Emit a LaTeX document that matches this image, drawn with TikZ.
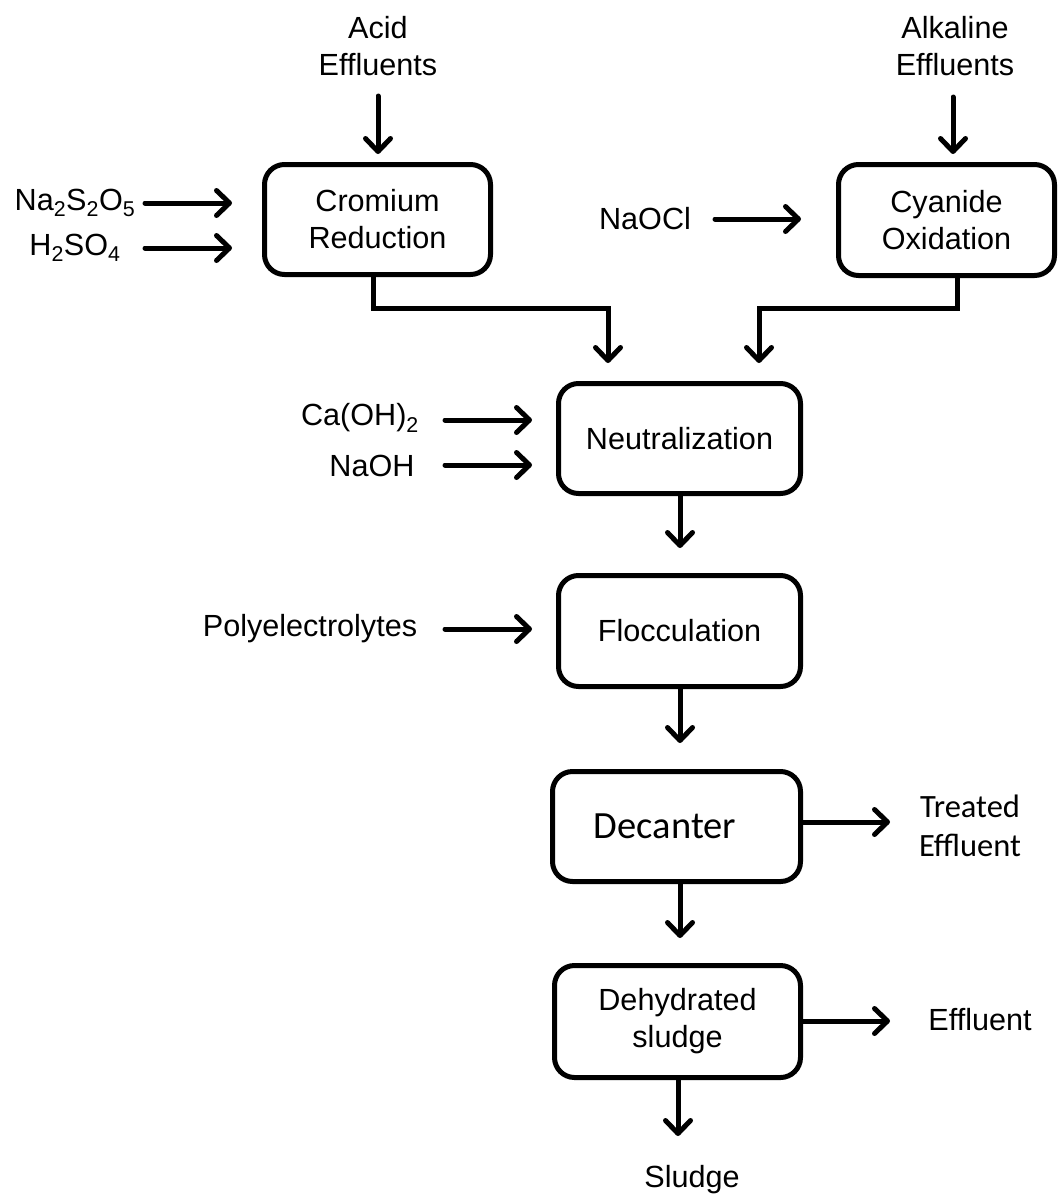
\documentclass[tikz,border=0pt]{standalone}
\usepackage{fontspec}
\setmainfont{Liberation Sans}
\newfontfamily\calfont{Carlito}
\usetikzlibrary{arrows.meta}
\begin{document}
\begin{tikzpicture}[x=1pt,y=-1pt,
  box/.style={draw,line width=5pt,rounded corners=20pt,inner sep=0pt,align=center,
    font=\fontsize{30.6}{37}\selectfont},
  lbl/.style={inner sep=0pt,align=center,font=\fontsize{30.6}{37}\selectfont},
  clbl/.style={inner sep=0pt,align=center,font=\calfont\fontsize{32.5}{39}\selectfont},
  arr/.style={line width=5pt,line cap=round,-{Straight Barb[length=13pt,width=25pt,round]}}]
\useasboundingbox (0,0) rectangle (1059,1197);
% boxes
\node[box,minimum width=226pt,minimum height=110pt] (cr) at (377.5,219.5) {Cromium\\Reduction};
\node[box,minimum width=216pt,minimum height=111pt] (co) at (946.5,220) {Cyanide\\Oxidation};
\node[box,minimum width=242pt,minimum height=110pt] (ne) at (679.5,438.5) {Neutralization};
\node[box,minimum width=242pt,minimum height=111pt] (fl) at (679.5,631) {Flocculation};
\node[box,minimum width=248pt,minimum height=110pt,font=\calfont\fontsize{38.5}{42}\selectfont] (de) at (676.5,826.5) {\hspace*{-23pt}Decanter};
\node[box,minimum width=246pt,minimum height=112pt] (dh) at (677.5,1021.5) {Dehydrated\\sludge};
% labels
\node[lbl] (acid) at (378,46) {Acid\\Effluents};
\node[lbl] (alk) at (955,46) {Alkaline\\Effluents};
\node[lbl] (na2) at (75,203) {Na\textsubscript{2}S\textsubscript{2}O\textsubscript{5}};
\node[lbl] (h2) at (75,248) {H\textsubscript{2}SO\textsubscript{4}};
\node[lbl] (naocl) at (645,219) {NaOCl};
\node[lbl] (caoh) at (360,418) {Ca(OH)\textsubscript{2}};
\node[lbl] (naoh) at (372,466) {NaOH};
\node[lbl] (poly) at (310,629) {Polyelectrolytes};
\node[clbl] (treat) at (970,826) {Treated\\Effluent};
\node[lbl] (eff) at (980,1020) {Effluent};
\node[lbl] (slu) at (692,1180) {Sludge};
% coordinates
\coordinate (acidS) at (378,96);
\coordinate (alkS) at (953,97);
\coordinate (na2E) at (145,203);
\coordinate (h2E) at (145,248);
\coordinate (naoclE) at (715,219);
\coordinate (caohE) at (445,420);
\coordinate (naohE) at (445,465);
\coordinate (polyE) at (445,629);
\coordinate (crT) at (378,154);
\coordinate (coT) at (953,154);
\coordinate (crL1) at (232,203);
\coordinate (crL2) at (232,248);
\coordinate (coL) at (801,219);
\coordinate (neL1) at (532,420);
\coordinate (neL2) at (532,465);
\coordinate (flL) at (532,629);
\coordinate (neT1) at (608,363);
\coordinate (neT2) at (759,363);
\coordinate (treatW) at (890,822);
\coordinate (effW) at (890,1021);
\coordinate (sluN) at (678,1136);
% arrows
\draw[arr] (acidS) -- (crT);
\draw[arr] (alkS) -- (coT);
\draw[arr] (na2E) -- (crL1);
\draw[arr] (h2E) -- (crL2);
\draw[arr] (naoclE) -- (coL);
\draw[arr] (caohE) -- (neL1);
\draw[arr] (naohE) -- (neL2);
\draw[arr] (polyE) -- (flL);
\draw[arr] (cr.south -| 373,0) |- (608,308) -- (neT1);
\draw[arr] (co.south -| 957,0) |- (759,308) -- (neT2);
\draw[arr] (ne.south -| 680,0) -- (680,548);
\draw[arr] (fl.south -| 680,0) -- (680,743);
\draw[arr] (de.south -| 680,0) -- (680,938);
\draw[arr] (de.east |- 0,822) -- (treatW);
\draw[arr] (dh.east |- 0,1021) -- (effW);
\draw[arr] (dh.south -| 678,0) -- (sluN);
\end{tikzpicture}
\end{document}
